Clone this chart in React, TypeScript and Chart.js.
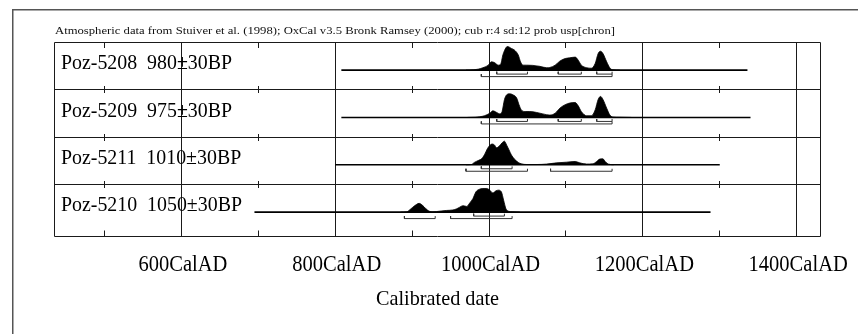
import React, { useEffect, useRef } from 'react';
import { Chart, registerables } from 'chart.js';

Chart.register(...registerables);

// ---------- data ----------
const chartTitle =
  'Atmospheric data from Stuiver et al. (1998); OxCal v3.5 Bronk Ramsey (2000); cub r:4 sd:12 prob usp[chron]';
const axisTitle = 'Calibrated date';

const sampleLabels = ['Poz-5208  980±30BP', 'Poz-5209  975±30BP', 'Poz-5211  1010±30BP', 'Poz-5210  1050±30BP'];

const majorTicks = [600, 800, 1000, 1200, 1400];
const minorTicks = [500, 700, 900, 1100, 1300];
const tickLabels = ['600CalAD', '800CalAD', '1000CalAD', '1200CalAD', '1400CalAD'];

const xMin = 435;
const xMax = 1431;

// plotted calibration range of each sample (years AD)
const rangeStart = [808, 808, 800, 695];
const rangeEnd = [1336, 1340, 1300, 1288];

// probability distributions (relative probability, peak = 1)
const poz5208Years = [970, 980, 986, 992, 999, 1003, 1007, 1012, 1015, 1018, 1022, 1024, 1029, 1033, 1038, 1041, 1044, 1049, 1057, 1066, 1075, 1079, 1086, 1092, 1099, 1105, 1112, 1116, 1120, 1127, 1133, 1138, 1142, 1145, 1148, 1153, 1157, 1161, 1170];
const poz5208Prob = [0, 0.01, 0.04, 0.1, 0.21, 0.35, 0.32, 0.21, 0.24, 0.64, 0.95, 1.0, 0.92, 0.85, 0.64, 0.35, 0.21, 0.21, 0.2, 0.16, 0.1, 0.11, 0.21, 0.38, 0.49, 0.52, 0.55, 0.42, 0.21, 0.1, 0.08, 0.28, 0.71, 0.8, 0.71, 0.35, 0.1, 0.01, 0];

const poz5209Years = [972, 982, 988, 994, 1001, 1005, 1010, 1014, 1017, 1020, 1023, 1027, 1031, 1036, 1039, 1042, 1047, 1053, 1062, 1070, 1079, 1086, 1092, 1099, 1105, 1112, 1116, 1120, 1127, 1133, 1138, 1142, 1145, 1148, 1153, 1157, 1161, 1170, 1185];
const poz5209Prob = [0, 0.01, 0.03, 0.07, 0.18, 0.28, 0.21, 0.15, 0.25, 0.75, 0.96, 1.0, 0.96, 0.82, 0.54, 0.32, 0.25, 0.25, 0.21, 0.15, 0.1, 0.18, 0.39, 0.54, 0.61, 0.63, 0.49, 0.25, 0.07, 0.07, 0.32, 0.77, 0.89, 0.77, 0.39, 0.11, 0.02, 0.01, 0];

const poz5211Years = [970, 977, 981, 986, 990, 994, 998, 1001, 1004, 1007, 1010, 1013, 1017, 1020, 1023, 1026, 1029, 1033, 1038, 1042, 1049, 1062, 1075, 1088, 1101, 1112, 1118, 1127, 1135, 1140, 1144, 1148, 1151, 1155, 1162];
const poz5211Prob = [0, 0.01, 0.1, 0.18, 0.24, 0.42, 0.69, 0.82, 0.88, 0.84, 0.72, 0.78, 0.93, 1.0, 0.83, 0.63, 0.42, 0.24, 0.1, 0.04, 0.01, 0.01, 0.03, 0.08, 0.11, 0.14, 0.08, 0.03, 0.04, 0.14, 0.24, 0.25, 0.14, 0.03, 0];

const poz5210Years = [885, 893, 897, 901, 906, 909, 913, 918, 922, 927, 936, 945, 953, 958, 962, 966, 971, 975, 979, 983, 987, 992, 997, 1001, 1005, 1009, 1012, 1016, 1019, 1022, 1025, 1031, 1040];
const poz5210Prob = [0, 0.01, 0.1, 0.21, 0.33, 0.37, 0.3, 0.14, 0.04, 0.01, 0.04, 0.07, 0.09, 0.14, 0.21, 0.27, 0.24, 0.39, 0.57, 0.86, 0.96, 1.0, 1.0, 0.93, 0.81, 0.9, 0.93, 0.86, 0.5, 0.14, 0.04, 0.01, 0];

const sampleYears = [poz5208Years, poz5209Years, poz5211Years, poz5210Years];
const sampleProb = [poz5208Prob, poz5209Prob, poz5211Prob, poz5210Prob];

// 68.2% and 95.4% ranges
const range68 = [
  [[1010, 1050], [1090, 1120], [1140, 1160]],
  [[1010, 1050], [1090, 1120], [1140, 1160]],
  [[990, 1030]],
  [[980, 1020]],
];
const range95 = [
  [[990, 1160]],
  [[990, 1160]],
  [[970, 1050], [1080, 1160]],
  [[890, 930], [950, 1030]],
];

// ---------- layout (pixels) ----------
const W = 858;
const H = 334;
const ROW_PX = 47.33;
const PLOT_TOP = 42.5;
const PLOT_BOTTOM = 236.5;
const PLOT_LEFT = 54.5;
const PLOT_RIGHT = 820.5;
const yMaxUnits = (PLOT_BOTTOM - PLOT_TOP) / ROW_PX;
const BASE_OFF = 27.6 / ROW_PX;
const PEAK_H = 23.6 / ROW_PX;
const px = (p: number) => p / ROW_PX;

const SERIF = '"Liberation Serif", "Times New Roman", serif';

function buildDatasets() {
  const ds: any[] = [];
  sampleLabels.forEach((_, i) => {
    const base = i + BASE_OFF;
    ds.push({
      label: sampleLabels[i],
      data: sampleYears[i].map((yr, k) => ({ x: yr, y: base - sampleProb[i][k] * PEAK_H })),
      borderColor: '#000',
      backgroundColor: '#000',
      borderWidth: 0.8,
      fill: { value: base },
      cubicInterpolationMode: 'monotone',
      pointRadius: 0,
    });
    ds.push({
      label: sampleLabels[i] + ' range',
      data: [
        { x: rangeStart[i], y: base },
        { x: rangeEnd[i], y: base },
      ],
      borderColor: '#000',
      borderWidth: 1.6,
      fill: false,
      pointRadius: 0,
    });
    const br: any[] = [];
    range68[i].forEach(([a, b]) => {
      br.push({ x: a, y: base + px(1.6) }, { x: a, y: base + px(4) }, { x: b, y: base + px(4) }, { x: b, y: base + px(1.6) }, { x: b, y: null });
    });
    range95[i].forEach(([a, b]) => {
      br.push({ x: a, y: base + px(4) }, { x: a, y: base + px(6.5) }, { x: b, y: base + px(6.5) }, { x: b, y: base + px(4) }, { x: b, y: null });
    });
    ds.push({
      label: sampleLabels[i] + ' brackets',
      data: br,
      borderColor: '#333',
      borderWidth: 1,
      fill: false,
      pointRadius: 0,
      spanGaps: false,
      tension: 0,
    });
  });
  return ds;
}

const snap = (v: number) => Math.round(v - 0.5) + 0.5;

function drawScaled(ctx: CanvasRenderingContext2D, text: string, x: number, y: number, sx: number, align: 'left' | 'center') {
  const w = ctx.measureText(text).width * sx;
  const x0 = align === 'center' ? x - w / 2 : x;
  ctx.save();
  ctx.translate(x0, y);
  ctx.scale(sx, 1);
  ctx.textAlign = 'left';
  ctx.fillText(text, 0, 0);
  ctx.restore();
}

const oxcalPlugin = {
  id: 'oxcal',
  beforeDraw(chart: any) {
    const { ctx } = chart;
    ctx.save();
    ctx.fillStyle = '#fff';
    ctx.fillRect(0, 0, W, H);
    // outer frame
    ctx.strokeStyle = '#555';
    ctx.lineWidth = 1.5;
    ctx.beginPath();
    ctx.moveTo(12.75, H + 5);
    ctx.lineTo(12.75, 9.75);
    ctx.lineTo(W + 5, 9.75);
    ctx.stroke();
    // title
    ctx.fillStyle = '#111';
    ctx.font = `10px ${SERIF}`;
    ctx.textBaseline = 'alphabetic';
    const tw = ctx.measureText(chartTitle).width;
    drawScaled(ctx, chartTitle, 55, 33.5, 560 / tw, 'left');
    ctx.restore();
  },
  beforeDatasetsDraw(chart: any) {
    const { ctx, chartArea } = chart;
    const xs = chart.scales.x;
    const ys = chart.scales.y;
    const { left, right, top, bottom } = chartArea;
    ctx.save();
    ctx.strokeStyle = '#1a1a1a';
    ctx.lineWidth = 1;
    // horizontal row edges
    const edges = [0, 1, 2, 3].map((v) => snap(ys.getPixelForValue(v)));
    const yBot = snap(bottom);
    ctx.beginPath();
    [...edges, yBot].forEach((y) => {
      ctx.moveTo(left, y);
      ctx.lineTo(right, y);
    });
    ctx.moveTo(snap(left), top);
    ctx.lineTo(snap(left), bottom);
    ctx.moveTo(snap(right), top);
    ctx.lineTo(snap(right), bottom);
    majorTicks.forEach((t) => {
      const x = snap(xs.getPixelForValue(t));
      ctx.moveTo(x, top);
      ctx.lineTo(x, bottom);
    });
    minorTicks.forEach((t) => {
      const x = snap(xs.getPixelForValue(t));
      edges.forEach((y, k) => {
        if (k === 0) {
          ctx.moveTo(x, y);
          ctx.lineTo(x, y + 5.5);
        } else {
          ctx.moveTo(x, y - 3.5);
          ctx.lineTo(x, y + 3.5);
        }
      });
      ctx.moveTo(x, yBot);
      ctx.lineTo(x, yBot - 6);
    });
    ctx.stroke();

    ctx.fillStyle = '#000';
    ctx.textBaseline = 'alphabetic';

    // tick labels (condensed serif)
    ctx.font = `23px ${SERIF}`;
    const tickSx = 89 / ctx.measureText(tickLabels[0]).width;
    majorTicks.forEach((t, k) => {
      drawScaled(ctx, tickLabels[k], xs.getPixelForValue(t) + 1.5, 270.5, tickSx, 'center');
    });
    ctx.font = `22px ${SERIF}`;
    const titleSx = 123 / ctx.measureText(axisTitle).width;
    drawScaled(ctx, axisTitle, (left + right) / 2, 305, titleSx, 'center');

    // sample labels
    ctx.font = `22px ${SERIF}`;
    const labSx = 171 / ctx.measureText(sampleLabels[0]).width;
    sampleLabels.forEach((lab, i) => {
      drawScaled(ctx, lab, left + 6.5, ys.getPixelForValue(i) + 26.8, labSx, 'left');
    });
    ctx.restore();
  },
};

export default function App() {
  const ref = useRef<HTMLCanvasElement | null>(null);
  useEffect(() => {
    document.body.style.margin = '0';
    const canvas = ref.current;
    if (!canvas) return;
    const chart = new Chart(canvas, {
      type: 'line',
      data: { datasets: buildDatasets() },
      options: {
        responsive: false,
        animation: false,
        devicePixelRatio: 1,
        events: [],
        layout: {
          padding: {
            left: PLOT_LEFT,
            right: W - PLOT_RIGHT,
            top: PLOT_TOP,
            bottom: H - PLOT_BOTTOM,
          },
        },
        scales: {
          x: { type: 'linear', min: xMin, max: xMax, display: false },
          y: { type: 'linear', min: 0, max: yMaxUnits, reverse: true, display: false },
        },
        plugins: { legend: { display: false }, tooltip: { enabled: false }, title: { display: false } },
        elements: { point: { radius: 0 } },
      },
      plugins: [oxcalPlugin],
    });
    return () => chart.destroy();
  }, []);
  return <canvas ref={ref} width={W} height={H} style={{ display: 'block', width: W, height: H }} />;
}
